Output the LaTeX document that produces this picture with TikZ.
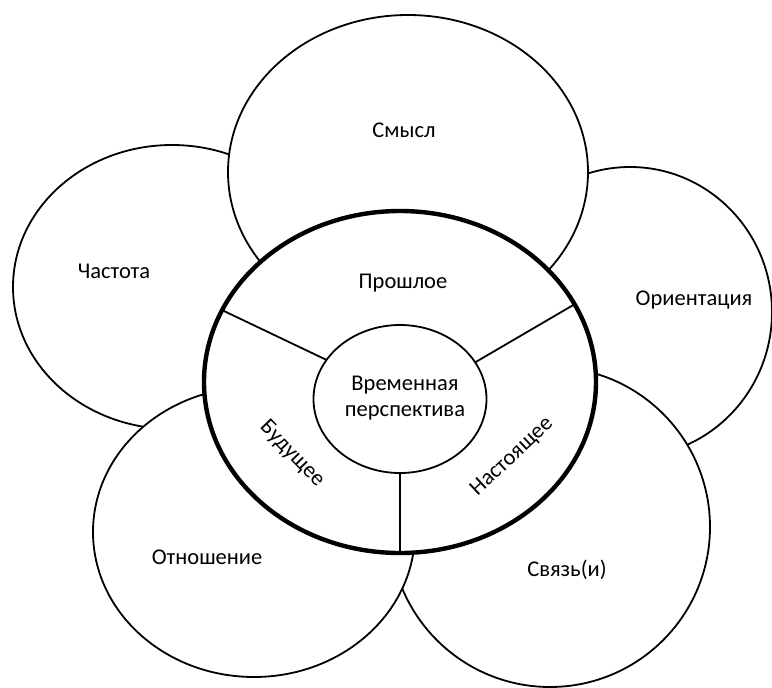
\documentclass[tikz,border=0pt]{standalone}
\usepackage{fontspec}
\setmainfont{Carlito}
\usetikzlibrary{shapes.geometric}
\begin{document}
\begin{tikzpicture}[x=1pt,y=-1pt,
 petal/.style={ellipse, draw, fill=white, line width=1.8pt, inner sep=0pt, outer sep=0pt},
 ringstyle/.style={ellipse, draw, fill=white, line width=4.4pt, inner sep=0pt, outer sep=0pt},
 spoke/.style={line width=1.8pt},
 lbl/.style={font=\fontsize{22.5}{26}\selectfont, align=center, inner sep=0pt}]
\useasboundingbox[fill=white] (0,0) rectangle (772,688);
\node[petal, minimum width=318pt, minimum height=284pt] (chastota) at (172,287) {};
\node[petal, minimum width=284pt, minimum height=290pt] (orient) at (630,312) {};
\node[petal, minimum width=360pt, minimum height=314pt] (smysl) at (408,172) {};
\node[petal, minimum width=320pt, minimum height=320pt] (svyaz) at (550,527) {};
\node[petal, minimum width=322pt, minimum height=290pt] (otnosh) at (254,532) {};
\node[ringstyle, minimum width=392pt, minimum height=342pt] (ring) at (400,382) {};
\node[petal, minimum width=173pt, minimum height=148pt] (inner) at (400,399) {};
\draw[spoke] (inner.152) -- (ring.158);
\draw[spoke] (inner.26) -- (ring.24);
\draw[spoke] (inner.270) -- (ring.270);
\node[lbl] (t1) at (404,130) {Смысл};
\node[lbl] (t2) at (114,271) {Частота};
\node[lbl] (t3) at (694,300) {Ориентация};
\node[lbl] (t4) at (207,557) {Отношение};
\node[lbl] (t5) at (567,570) {Связь(и)};
\node[lbl] (t6) at (403,283) {Прошлое};
\node[lbl] (t7) at (405,398) {Временная\\перспектива};
\node[lbl, rotate=-46] (t8) at (292,454) {Будущее};
\node[lbl, rotate=43] (t9) at (512,457) {Настоящее};
\end{tikzpicture}
\end{document}
